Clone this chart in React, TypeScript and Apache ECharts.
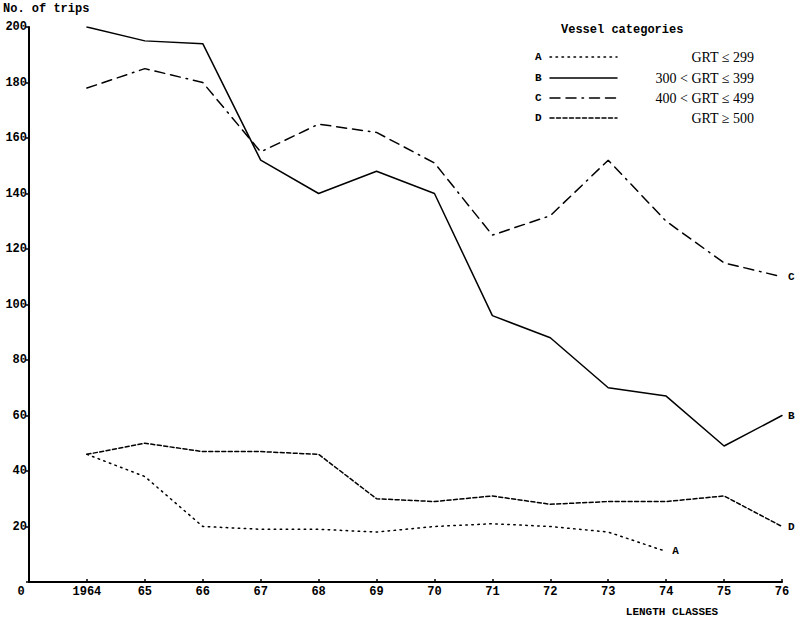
import React, { useEffect, useRef } from "react";
import * as echarts from "echarts";

const years = [1964, 1965, 1966, 1967, 1968, 1969, 1970, 1971, 1972, 1973, 1974, 1975, 1976];
const seriesA = [46, 38, 20, 19, 19, 18, 20, 21, 20, 18, 11];
const seriesB = [200, 195, 194, 152, 140, 148, 140, 96, 88, 70, 67, 49, 60];
const seriesC = [178, 185, 180, 155, 165, 162, 151, 125, 132, 152, 130, 115, 110];
const seriesD = [46, 50, 47, 47, 46, 30, 29, 31, 28, 29, 29, 31, 20];
const yTicks = [0, 20, 40, 60, 80, 100, 120, 140, 160, 180, 200];

const dashA = [1.5, 4.5];
const dashC = [10, 6, 10, 6, 10, 6, 1.5, 6];
const dashD = [4, 2.5];

const legendRows = [
  { letter: "A", text: "GRT ≤ 299", dash: dashA },
  { letter: "B", text: "300 < GRT ≤ 399", dash: null },
  { letter: "C", text: "400 < GRT ≤ 499", dash: [10, 6, 10, 6, 1.5, 6] },
  { letter: "D", text: "GRT ≥ 500", dash: dashD },
];

const MONO = "Liberation Mono";
const SERIF = "Liberation Serif";

function pairs(vals: number[]) {
  return vals.map((v, i) => [years[i], v]);
}

export default function App() {
  const ref = useRef<HTMLDivElement>(null);
  useEffect(() => {
    if (!ref.current) return;
    const chart = echarts.init(ref.current, null, { renderer: "svg" });
    const mk = (name: string, vals: number[], dash: any) => ({
      name,
      type: "line",
      data: pairs(vals),
      symbol: "none",
      lineStyle: { color: "#000", width: 1.5, type: dash || "solid", cap: "round" },
      endLabel: {
        show: true,
        formatter: name,
        fontFamily: MONO,
        fontWeight: "bold",
        fontSize: 11,
        color: "#000",
        distance: 6,
      },
    });
    const graphics: any[] = [
      { type: "text", left: 3, top: 3, style: { text: "No. of trips", font: `bold 12px ${MONO}`, fill: "#000" } },
      { type: "text", x: 561, y: 30, style: { text: "Vessel categories", font: `bold 12px ${MONO}`, fill: "#000", verticalAlign: "middle" } },
      { type: "text", x: 672, y: 612, style: { text: "LENGTH CLASSES", font: `bold 11px ${MONO}`, fill: "#000", align: "center", verticalAlign: "middle" } },
    ];
    const rowY = [57, 78, 98, 118];
    legendRows.forEach((r, i) => {
      const y = rowY[i];
      graphics.push({ type: "text", x: 535, y, style: { text: r.letter, font: `bold 11px ${MONO}`, fill: "#000", verticalAlign: "middle" } });
      graphics.push({
        type: "line",
        shape: { x1: 550, y1: y, x2: 617, y2: y },
        style: { stroke: "#000", lineWidth: 1.5, lineDash: r.dash || undefined, lineCap: "round" },
      });
      graphics.push({ type: "text", x: 754, y, style: { text: r.text, font: `14px ${SERIF}`, fill: "#000", align: "right", verticalAlign: "middle" } });
    });
    chart.setOption({
      animation: false,
      grid: { left: 29, right: 18, top: 27, bottom: 37, containLabel: false },
      xAxis: {
        type: "value",
        min: 1963,
        max: 1976,
        interval: 1,
        splitLine: { show: false },
        axisLine: { lineStyle: { color: "#000", width: 2 } },
        axisTick: { inside: true, length: 3, lineStyle: { color: "#000", width: 1.5 } },
        axisLabel: {
          color: "#000",
          fontFamily: MONO,
          fontWeight: "bold",
          fontSize: 12,
          margin: 4,
          showMinLabel: true,
          showMaxLabel: true,
          formatter: (v: number) => (v === 1963 ? "{z|0}" : v === 1964 ? "1964" : String(v).slice(2)),
          rich: { z: { fontFamily: MONO, fontWeight: "bold", fontSize: 12, color: "#000", padding: [0, 16, 0, 0] } },
        },
      },
      yAxis: {
        type: "value",
        min: yTicks[0],
        max: yTicks[yTicks.length - 1],
        interval: 20,
        splitLine: { show: false },
        axisLine: { show: true, lineStyle: { color: "#000", width: 2 } },
        axisTick: { show: true, length: 3, lineStyle: { color: "#000", width: 1.5 } },
        axisLabel: {
          color: "#000",
          fontFamily: MONO,
          fontWeight: "bold",
          fontSize: 12,
          margin: 2,
          formatter: (v: number) => (v === 0 ? "" : String(v)),
        },
      },
      series: [
        mk("A", seriesA, dashA),
        mk("B", seriesB, null),
        mk("C", seriesC, dashC),
        mk("D", seriesD, dashD),
      ],
      graphic: graphics,
    });
    return () => chart.dispose();
  }, []);
  return <div ref={ref} style={{ position: "fixed", left: 0, top: 0, width: 800, height: 619, background: "#fff" }} />;
}
